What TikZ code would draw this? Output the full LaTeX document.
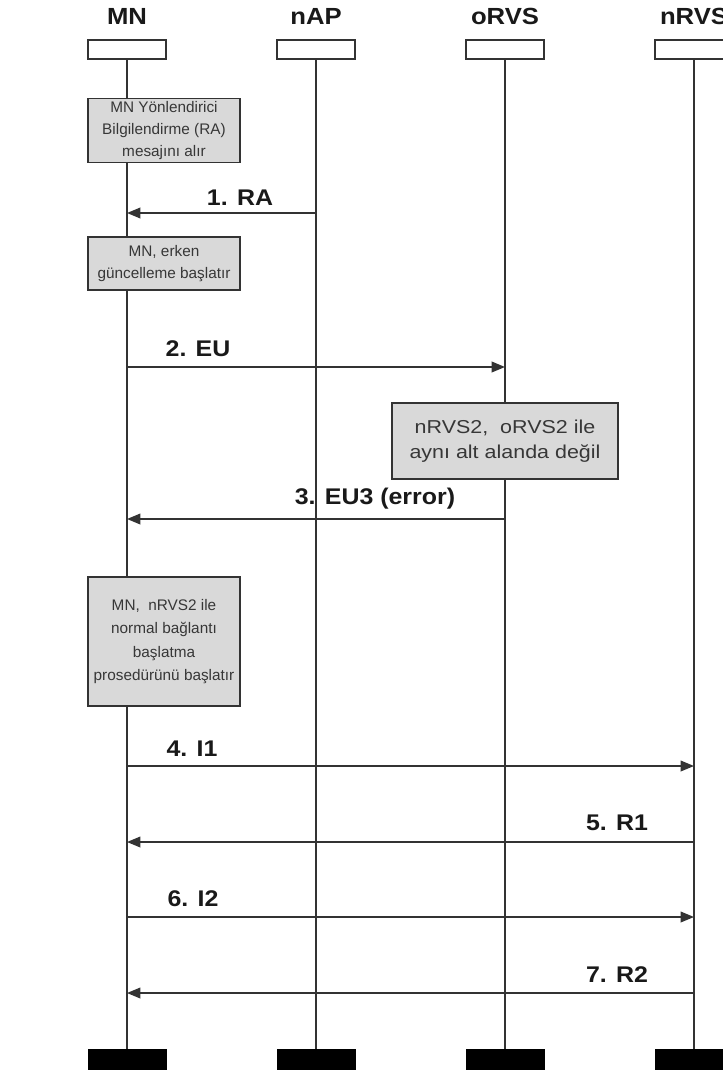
\documentclass[tikz,border=0pt]{standalone}
\usepackage{fontspec}
\setmainfont{Liberation Sans}
\newfontfamily\widefont[FakeStretch=1.1]{Liberation Sans}
\newfontfamily\boxwidefont[FakeStretch=1.15]{Liberation Sans}
\usetikzlibrary{arrows.meta,positioning,calc}
\definecolor{ink}{RGB}{51,51,51}
\definecolor{boxgray}{RGB}{217,217,217}
\definecolor{txtgray}{RGB}{55,55,55}
\tikzset{
  actor/.style={font=\widefont\bfseries\fontsize{17.5pt}{19pt}\selectfont,text=black!90,inner sep=0pt},
  headbox/.style={draw=ink,line width=1.1pt,fill=white,minimum width=58.5pt,minimum height=14.25pt,inner sep=0pt},
  footbox/.style={draw=black,fill=black,minimum width=58.5pt,minimum height=20pt,inner sep=0pt},
  life/.style={draw=ink,line width=1.1pt},
  note/.style={draw=ink,line width=1pt,fill=boxgray,align=center,text=txtgray,inner sep=2pt,
    font=\fontsize{11.5pt}{16.5pt}\selectfont,minimum width=114pt},
  msg/.style={font=\widefont\bfseries\fontsize{17pt}{18pt}\selectfont,text=black!90,inner sep=0pt},
  arr/.style={-{Triangle[length=10pt,width=8pt]},draw=ink,line width=1.1pt},
}
\begin{document}
\begin{tikzpicture}[x=0.75pt,y=-0.75pt]
  \useasboundingbox (0,0) rectangle (723,1070);
  \clip (0,0) rectangle (723,1070);
  % actors
  \node[actor] (MN) at (127,16) {MN};
  \node[actor] (nAP) at (316,16) {nAP};
  \node[actor] (oRVS) at (505,16) {oRVS};
  \node[actor] (nRVS) at (694,16) {nRVS};
  \foreach \a/\x in {MN/127,nAP/316,oRVS/505,nRVS/694}{
    \node[headbox] (h\a) at (\x,49.5) {};
    \node[footbox] (f\a) at (\x,1062.5) {};
    \draw[life] (h\a.south) -- (f\a.north);
  }
  % notes
  \node[note,minimum height=45.75pt] (n1) at (164,130.5) {MN Yönlendirici\\Bilgilendirme (RA)\\mesajını alır};
  \node[note,minimum height=39.75pt] (n2) at (164,263.5) {MN, erken\\güncelleme başlatır};
  \node[note,minimum height=57pt,minimum width=169.5pt,font=\boxwidefont\fontsize{14pt}{19pt}\selectfont] (n3) at (505,441) {nRVS2,\ \ oRVS2 ile\\aynı alt alanda değil};
  \node[note,minimum height=96.75pt,font=\fontsize{11.5pt}{17.6pt}\selectfont] (n4) at (164,641.5) {MN,\ \ nRVS2 ile\\normal bağlantı\\başlatma\\prosedürünü başlatır};
  % message end points
  \foreach \i/\s/\t/\y in {1/nAP/MN/213,2/MN/oRVS/367,3/oRVS/MN/519,4/MN/nRVS/766,5/nRVS/MN/842,6/MN/nRVS/917,7/nRVS/MN/993}{
    \coordinate (s\i) at (h\s |- 0,\y);
    \coordinate (t\i) at (h\t |- 0,\y);
    \draw[arr] (s\i) -- (t\i);
  }
  % message labels
  \node[msg] (m1) at (240,198) {1. RA};
  \node[msg] (m2) at (198,349) {2. EU};
  \node[msg] (m3) at (375,499) {3. EU3 (error)};
  \node[msg] (m4) at (192,749) {4. I1};
  \node[msg] (m5) at (617,823) {5. R1};
  \node[msg] (m6) at (193,899) {6. I2};
  \node[msg] (m7) at (617,975) {7. R2};
\end{tikzpicture}
\end{document}
